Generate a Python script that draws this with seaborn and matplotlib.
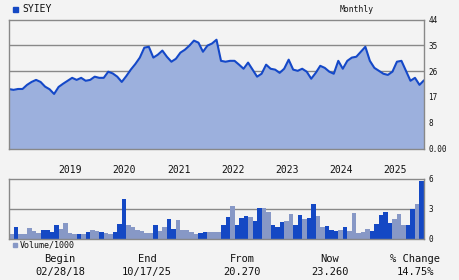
import matplotlib
matplotlib.use("Agg")
import matplotlib.pyplot as plt
from matplotlib.patches import Rectangle
import seaborn as sns
import numpy as np

# ---- data ----
ticker = "SYIEY"
price = [20.27, 20.0, 20.3, 20.3, 21.7, 22.7, 23.4, 22.7, 21.1, 20.2,
         18.6, 21.0, 22.1, 23.1, 24.1, 23.4, 24.1, 23.1, 23.4, 24.5,
         24.1, 24.1, 26.2, 25.6, 24.5, 22.7, 24.7, 26.9, 28.8, 31.0,
         34.4, 34.7, 31.0, 32.0, 33.4, 31.3, 29.6, 30.6, 32.7, 33.7,
         35.1, 36.8, 36.1, 33.0, 35.1, 35.8, 37.1, 29.9, 29.6, 29.9,
         29.9, 28.6, 27.2, 29.3, 26.9, 24.5, 25.5, 28.6, 27.2, 26.9,
         25.8, 27.2, 30.3, 26.9, 26.5, 27.2, 26.2, 23.8, 25.8, 28.2,
         27.5, 26.2, 25.5, 29.9, 27.2, 29.9, 31.0, 31.3, 33.0, 34.7,
         29.9, 27.5, 26.5, 25.5, 25.1, 26.2, 29.6, 29.9, 26.5, 23.1,
         24.1, 21.7, 23.26]
volume = [0.5, 1.2, 0.5, 0.5, 1.1, 0.8, 0.6, 0.9, 0.9, 0.7,
          1.4, 1.0, 1.6, 0.6, 0.5, 0.5, 0.5, 0.7, 0.9, 0.8,
          0.7, 0.6, 0.5, 0.7, 1.5, 4.0, 1.4, 1.2, 0.9, 0.8,
          0.6, 0.6, 1.4, 0.8, 1.2, 2.0, 1.0, 1.9, 0.9, 0.9,
          0.7, 0.5, 0.6, 0.7, 0.7, 0.7, 0.7, 1.4, 2.2, 3.3,
          1.4, 2.1, 2.3, 2.2, 1.8, 3.1, 3.1, 2.7, 1.45, 1.25,
          1.75, 1.85, 2.55, 1.45, 2.45, 2.05, 2.15, 3.55, 2.35, 1.25,
          1.35, 0.95, 0.85, 0.95, 1.25, 0.85, 2.65, 0.65, 0.75, 1.05,
          0.85, 1.55, 2.45, 2.75, 1.65, 2.05, 2.55, 1.45, 1.45, 3.05,
          3.55, 5.8]
# D = month closed down (dark bar), U = month closed up (light bar)
vol_dir = list("UDUUUUUDDDDUUUUDUDUUDUUDDDUUUUUUDUUDDUUUUUDDUUUDDUDDDUDDUUDDDUUDDUDDUUDDDUDUUUUUDDDDDUUUDDUD")
years = ["2019", "2020", "2021", "2022", "2023", "2024", "2025"]
price_ticks = [0, 8.8, 17.6, 26.4, 35.2, 44]
price_tick_labels = ["0.00", "8", "17", "26", "35", "44"]
vol_ticks = [0, 3, 6]
vol_tick_labels = ["0", "3", "6"]
footer_labels = ["Begin", "End", "From", "Now", "% Change"]
footer_values = ["02/28/18", "10/17/25", "20.270", "23.260", "14.75%"]

# ---- style ----
BG = "#f3f3f3"
LINE = "#1448c8"
FILL = "#9cb0dd"
DARK = "#1448c4"
LIGHT = "#8798c6"
GRID = "#888888"
MONO = "DejaVu Sans Mono"

sns.set_theme(style="white")
plt.rcParams["font.family"] = [MONO, "DejaVu Sans"]

fig = plt.figure(figsize=(4.6, 2.8), dpi=100, facecolor=BG)

# price panel
ax = fig.add_axes([9 / 460, 1 - 148.5 / 280, 415 / 460, 129 / 280], facecolor=BG)
months = np.arange(len(price))
for t in price_ticks[1:-1]:
    ax.axhline(t, color=GRID, lw=1, zorder=0.5)
ax.fill_between(months, price, 0, color=FILL, lw=0, zorder=2)
sns.lineplot(x=months, y=price, ax=ax, color=LINE, lw=1.5, zorder=3)
ax.set_xlim(0, len(price) - 1)
ax.set_ylim(0, 44)
ax.set_yticks(price_ticks)
ax.set_yticklabels(price_tick_labels)
ax.yaxis.tick_right()
ax.tick_params(axis="y", length=0, pad=3, labelsize=5.5, colors="#111111")
ax.set_xticks([])
ax.grid(False)
for s in ax.spines.values():
    s.set_color(GRID)
    s.set_linewidth(1)
    s.set_zorder(4)
ax.set_xlabel("")
ax.set_ylabel("")

# year labels
for y in years:
    pos = (int(y) - 2018) * 12 - 1
    ax.text(pos, -0.17, y, transform=ax.get_xaxis_transform(), ha="left",
            va="center", fontsize=7, color="#111111")

# volume panel
axv = fig.add_axes([9 / 460, 1 - 239 / 280, 415 / 460, 60 / 280], facecolor=BG)
axv.axhline(3, color=GRID, lw=1, zorder=0.5)
bar_colors = [DARK if d == "D" else LIGHT for d in vol_dir]
vx = np.arange(len(volume))
sns.barplot(x=vx, y=volume, hue=vx, palette=bar_colors, ax=axv, width=1,
            legend=False, linewidth=0, edgecolor="none", saturation=1,
            dodge=False, zorder=2)
axv.set_xlim(-0.5, len(volume) - 0.5)
axv.set_ylim(0, 6)
axv.set_yticks(vol_ticks)
axv.set_yticklabels(vol_tick_labels)
axv.yaxis.tick_right()
axv.tick_params(axis="y", length=0, pad=3, labelsize=5.5, colors="#111111")
axv.set_xticks([])
axv.grid(False)
for s in axv.spines.values():
    s.set_color(GRID)
    s.set_linewidth(1)
    s.set_zorder(4)
axv.set_xlabel("")
axv.set_ylabel("")

# header
fig.patches.append(Rectangle((13 / 460, 1 - 11.5 / 280), 4.5 / 460, 4.5 / 280,
                             transform=fig.transFigure, color=DARK))
fig.text(22 / 460, 1 - 9 / 280, ticker, fontsize=7, va="center", ha="left", color="#111111")
fig.text(357 / 460, 1 - 9 / 280, "Monthly", fontsize=5.8, va="center", ha="center", color="#111111")

# volume legend
fig.patches.append(Rectangle((13 / 460, 1 - 247 / 280), 4 / 460, 4 / 280,
                             transform=fig.transFigure, color=LIGHT))
fig.text(20 / 460, 1 - 245 / 280, "Volume/1000", fontsize=6, va="center", ha="left", color="#111111")

# footer
footer_x = [60, 147, 242, 330, 415]
for fx, lab, val in zip(footer_x, footer_labels, footer_values):
    fig.text(fx / 460, 1 - 259 / 280, lab, fontsize=7.5, ha="center", va="center", color="#111111")
    fig.text(fx / 460, 1 - 272 / 280, val, fontsize=7.5, ha="center", va="center", color="#111111")

fig.savefig("out.png", dpi=100, facecolor=BG)
